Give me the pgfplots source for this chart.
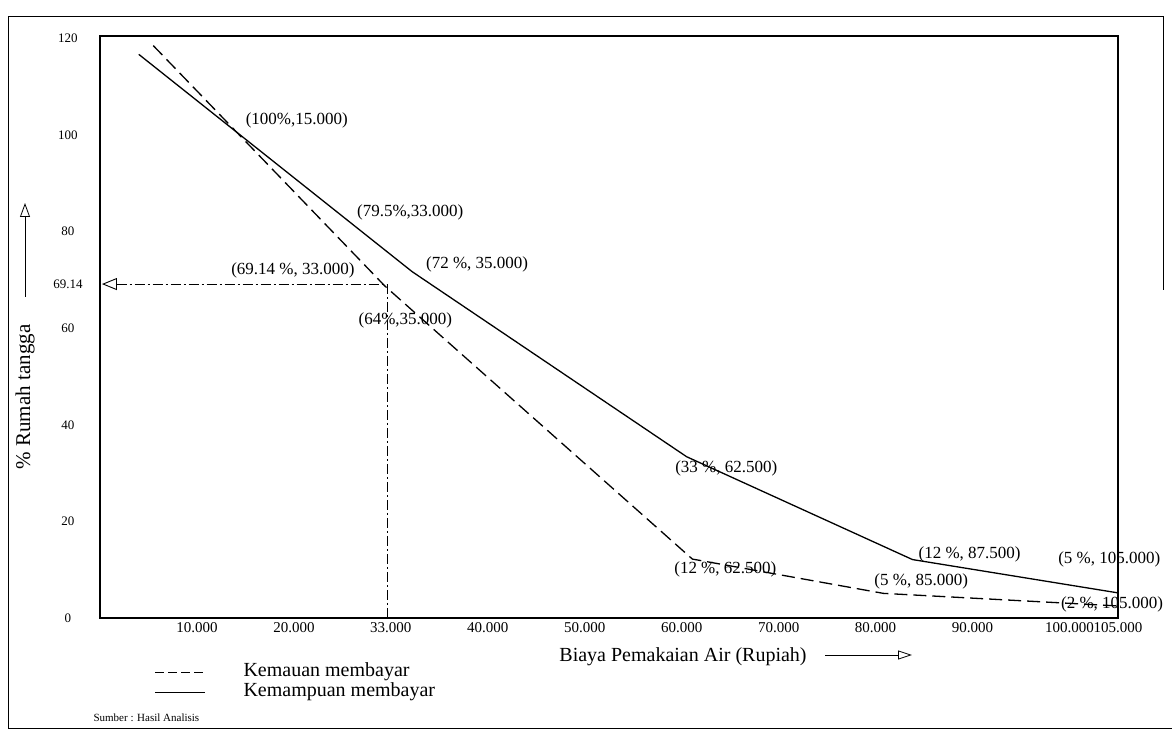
\documentclass[border=0pt]{standalone}
\usepackage{fontspec}
\setmainfont{Liberation Serif}
\usepackage{pgfplots}
\pgfplotsset{compat=1.18}
\usetikzlibrary{arrows.meta}

\begin{document}
\begin{tikzpicture}[x=1pt,y=1pt]
% page 1172 x 731, origin at lower left corner of the axis box
\path[use as bounding box] (-100,-113) rectangle (1072,618);

\begin{axis}[
    scale only axis,
    width=1018pt, height=582pt,
    xmin=0, xmax=105, ymin=0, ymax=120.5,
    axis line style={line width=1.3pt},
    major tick length=0pt,
    xtick={10,20,30,40,50,60,70,80,90,100,105},
    xticklabels={10.000,20.000,33.000,40.000,50.000,60.000,70.000,80.000,90.000,100.000,105.000},
    ytick={0,20,40,60,69.14,80,100,120},
    yticklabels={0,20,40,60,69.14,80,100,120},
    xticklabel style={font=\fontsize{15}{17}\selectfont, yshift=-1pt},
    yticklabel style={font=\fontsize{13}{15}\selectfont, anchor=center, xshift=-32pt},
    clip=false,
]
% Kemampuan membayar
\addplot[black, line width=1.3pt] coordinates {
    (4.0,116.7) (32.2,71.7) (60.5,33.4) (83.8,12.1) (105,5.2)};
% Kemauan membayar
\addplot[black, line width=1.3pt, dash pattern=on 13pt off 6pt] coordinates {
    (5.5,118.5) (29.4,68.7) (61.1,12.2) (80.8,5.1) (105,2.5)};
% guide at 69.14 %
\addplot[black, line width=0.9pt, dash pattern=on 10pt off 3pt on 2pt off 3pt,
    {Triangle[open,length=15pt,width=12pt]}-] coordinates {
    (0.2,69.14) (29.6,69.14) (29.6,0)};

\begin{scope}[font=\fontsize{17}{19}\selectfont, inner sep=0pt]
\node at (axis cs:20.3,103.0) {(100\%,15.000)};
\node at (axis cs:32.0,83.9) {(79.5\%,33.000)};
\node at (axis cs:38.9,73.2) {(72 \%, 35.000)};
\node at (axis cs:19.9,72.0) {(69.14 \%, 33.000)};
\node at (axis cs:31.5,61.6) {(64\%,35.000)};
\node at (axis cs:64.6,31.0) {(33 \%, 62.500)};
\node at (axis cs:64.5,10.1) {(12 \%, 62.500)};
\node at (axis cs:89.7,13.2) {(12 \%, 87.500)};
\node at (axis cs:84.7,7.5) {(5 \%, 85.000)};
\node at (axis cs:104.1,12.2) {(5 \%, 105.000)};
\node at (axis cs:104.4,2.9) {(2 \%, 105.000)};
\end{scope}
\end{axis}

% heavier left and bottom axis lines
\draw[line width=2.6pt] (0,582) -- (0,0) -- (1018,0);

% axis titles
\node[font=\fontsize{20}{22}\selectfont] at (583,-39) {Biaya Pemakaian Air (Rupiah)};
\draw[line width=0.8pt, -{Triangle[open,length=14pt,width=9pt]}] (725,-37) -- (812,-37);
\node[font=\fontsize{21}{23}\selectfont, rotate=90] at (-75,221) {\% Rumah tangga};
\draw[line width=0.8pt, -{Triangle[open,length=14pt,width=10pt]}] (-75,321) -- (-75,415);

% legend
\draw[line width=0.9pt, dash pattern=on 9pt off 4pt] (55,-54) -- (105,-54);
\node[anchor=west, font=\fontsize{20}{22}\selectfont] at (140,-54) {Kemauan membayar};
\draw[line width=0.9pt] (55,-74) -- (105,-74);
\node[anchor=west, font=\fontsize{20}{22}\selectfont] at (140,-74) {Kemampuan membayar};
\node[anchor=west, font=\fontsize{11}{13}\selectfont] at (-10,-100) {Sumber : Hasil Analisis};

% outer frame of the scanned figure
\draw[line width=1pt] (1063,328) -- (1063,601) -- (-91,601) -- (-91,-110) -- (1072,-110);
\end{tikzpicture}
\end{document}
